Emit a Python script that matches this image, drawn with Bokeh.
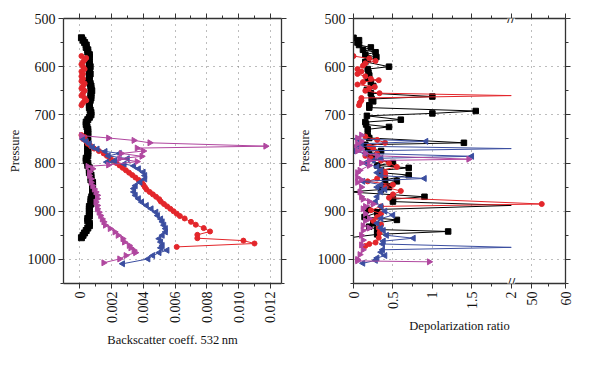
import math
import numpy as np
from bokeh.plotting import figure
from bokeh.layouts import row
from bokeh.models import FixedTicker, LinearAxis, Label, Range1d
from bokeh.embed import file_html
from bokeh.resources import INLINE

# ---------------- data: backscatter coefficient at 532 nm ----------------
bk_black_p = [540, 545, 550, 555, 560, 565, 570, 575, 580, 585, 590, 595, 600, 605, 610, 615, 620, 625,
              630, 635, 640, 645, 650, 655, 660, 665, 670, 675, 680, 685, 690, 695, 700, 705, 710, 715,
              720, 725, 730, 735, 740, 745, 750, 755, 760, 765, 770, 775, 780, 785, 790, 795, 800, 805,
              810, 815, 820, 825, 830, 835, 840, 845, 850, 855, 860, 865, 870, 875, 880, 885, 890, 895,
              900, 905, 910, 915, 920, 925, 930, 935, 940, 945, 950, 955]
bk_black_v = [0.0001, 0.0002, 0.0003, 0.0004, 0.0004, 0.0005, 0.0005, 0.0006, 0.0006, 0.00055, 0.0006, 0.0006,
              0.00065, 0.0006, 0.0006, 0.00065, 0.0006, 0.0006, 0.00055, 0.00065, 0.0007, 0.0007, 0.00075, 0.0007,
              0.0007, 0.0007, 0.00065, 0.0006, 0.0006, 0.0006, 0.00065, 0.0007, 0.0007, 0.0006, 0.0005, 0.0004,
              0.0004, 0.00045, 0.0005, 0.0005, 0.0005, 0.0005, 0.00045, 0.0005, 0.0005, 0.0005, 0.0005, 0.0005,
              0.0005, 0.0005, 0.0004, 0.0004, 0.0005, 0.0005, 0.0006, 0.0006, 0.0006, 0.0007, 0.0007, 0.0007,
              0.0008, 0.0008, 0.0008, 0.0008, 0.0008, 0.0008, 0.00075, 0.0007, 0.0007, 0.0007, 0.0006, 0.0006,
              0.0006, 0.0006, 0.0006, 0.0005, 0.0005, 0.0006, 0.0006, 0.0005, 0.0004, 0.0003, 0.0002, 0.0001]

bk_red_p = [578, 582, 586, 590, 595, 600, 605, 610, 615, 620, 625, 630, 635, 640, 645, 650, 655, 660, 665, 670,
            675, 680, float("nan"),
            742, 746, 750, 755, 760, 765, 770, 775, 780, 785, 790, 795, 800, 805, 810, 815, 820, 825, 830, 835,
            840, 845, 850, 855, 860, 865, 870, 875, 880, 885, 890, 895, 900, 905, 910, 915, 922, 928, 935, 942,
            949, 956, 961, 967, 974]
bk_red_v = [0.0001, 0.0004, 0.0003, 0.0002, 0.0001, 0.0002, 0.0003, 0.0001, 0.0002, 0.0001, 0.0002, 0.0001,
            0.0003, 0.0002, 0.0001, 0.0003, 0.0002, 0.0001, 0.0003, 0.0004, 0.0002, 0.0001, float("nan"),
            0.0001, 0.0003, 0.0002, 0.0004, 0.0005, 0.0007, 0.0009, 0.0012, 0.0015, 0.0017, 0.0019, 0.0021,
            0.0023, 0.0025, 0.0027, 0.0029, 0.0031, 0.0033, 0.0035, 0.0037, 0.0039, 0.0040, 0.0041, 0.0042,
            0.0044, 0.0046, 0.0048, 0.0050, 0.0051, 0.0053, 0.0055, 0.0057, 0.0059, 0.0061, 0.0063, 0.0066,
            0.0070, 0.0073, 0.0078, 0.0082, 0.0074, 0.0074, 0.0103, 0.0110, 0.0061]

bk_blue_p = [750, 755, 760, 767, 771, 776, 780, 785, 791, 795, 798, 802, 806, 812, 819, 826, 833, 840, 847, 853,
             860, 867, 874, 881, 888, 895, 902, 909, 916, 922, 929, 936, 943, 950, 957, 964, 971, 976, 981, 986,
             992, 999, 1009]
bk_blue_v = [0.0002, 0.0004, 0.0006, 0.0008, 0.0011, 0.0016, 0.0025, 0.0018, 0.0030, 0.0022, 0.0017, 0.0028,
             0.0034, 0.0037, 0.0040, 0.0041, 0.0041, 0.0038, 0.0035, 0.0034, 0.0034, 0.0035, 0.0037, 0.0039,
             0.0042, 0.0045, 0.0048, 0.0049, 0.0051, 0.0052, 0.0053, 0.0054, 0.0054, 0.0052, 0.0050, 0.0051,
             0.0052, 0.0051, 0.0055, 0.0050, 0.0046, 0.0043, 0.0027]

bk_mag_p = [743, 748, 753, 758, 765, 769, 775, 780, 786, 791, 797, 804, 807, 812, 819, 826, 833, 840, 847, 854,
            860, 867, 874, 881, 888, 895, 902, 909, 916, 922, 929, 936, 943, 950, 957, 964, 971, 976, 981, 986,
            992, 999, 1007]
bk_mag_v = [0.0001, 0.0018, 0.0034, 0.0044, 0.0117, 0.0036, 0.0040, 0.0026, 0.0039, 0.0025, 0.0036, 0.0018,
            0.0005, 0.0008, 0.0006, 0.0006, 0.0007, 0.0007, 0.0008, 0.0009, 0.0010, 0.0011, 0.0011, 0.0010,
            0.0011, 0.0011, 0.0012, 0.0013, 0.0014, 0.0015, 0.0016, 0.0019, 0.0022, 0.0024, 0.0027, 0.0028,
            0.0031, 0.0032, 0.0034, 0.0035, 0.0029, 0.0025, 0.0015]

# ---------------- data: depolarization ratio ----------------
dp_black_p = [540, 545, 550, 555, 560, 565, 570, 575, 580, 585, 590, 600, 605, 612, 618, 625, 632, 640, 648,
              655, 662, 667, 672, 680, 685, 692, 697, 702, 710, 715, 720, 725, 730, 742, 748, 758, 762, 768,
              775, 782, 790, 800, 805, 810, 815, 820, 825, 835, 838, 845, 850, 855, 860, 870, 875, 880, 888,
              897, 903, 912, 918, 925, 932, 938, 942, 948, 955]
dp_black_v = [0.0, 0.07, 0.05, 0.07, 0.22, 0.12, 0.28, 0.15, 0.29, 0.18, 0.15, 0.45, 0.18, 0.19, 0.2, 0.18,
              0.22, 0.25, 0.17, 0.22, 1.0, 0.23, 0.25, 0.2, 0.2, 1.55, 1.0, 0.17, 0.6, 0.15, 0.16, 0.45, 0.18,
              0.18, 0.2, 1.4, 0.15, 0.18, 0.35, 0.2, 0.25, 0.5, 0.3, 0.7, 0.35, 0.35, 0.7, 0.4, 0.55, 0.4, 0.45,
              0.35, -0.05, 0.9, 0.5, 0.5, 5.0, 0.18, 0.3, 0.14, 0.55, 0.25, 0.2, 0.3, 1.2, 0.3, -0.05]

dp_red_p = [578, 583, 588, 593, 598, 605, 610, 615, 620, 625, 628, 632, 637, 642, 645, 650, 655, 660, 665,
            670, 675, 680, float("nan"),
            745, 752, 758, 765, 770, 780, 785, 790, 795, 800, 808, 815, 820, 825, 832, 838, 845, 850, 858,
            865, 872, 885, 890, 898, 905, 912, 920, 928, 935, 945, 955, 965, 968, 972]
dp_red_v = [0.0, 0.2, 0.28, 0.15, 0.12, 0.05, 0.1, 0.05, 0.15, 0.22, 0.32, 0.12, 0.05, 0.27, 0.2, 0.15, 0.33,
            5.0, 0.1, 0.1, 0.08, 0.07, float("nan"),
            0.15, 0.3, 0.4, 0.2, 0.25, 0.3, 0.15, 0.22, 0.35, 0.45, 0.55, 0.35, 0.4, 0.4, 0.3, 0.18, 0.5, 0.4,
            0.6, 0.5, 0.45, 53.0, 0.35, 0.22, 0.35, 0.3, 0.25, 0.35, 0.32, 0.33, 0.32, 0.28, 0.2, 0.15]

dp_blue_p = [750, 755, 760, 765, 770, 775, 780, 786, 790, 795, 800, 808, 815, 820, 826, 832, 838, 845, 850,
             855, 860, 870, 880, 890, 900, 908, 915, 925, 935, 940, 950, 956, 962, 968, 975, 980, 985, 992,
             997, 1002, 1008]
dp_blue_v = [0.05, 0.92, 0.1, 0.05, 5.0, 0.0, 0.15, 1.5, 0.35, 0.25, 0.15, 0.3, 0.35, 0.3, 0.35, 0.9, 0.12,
             0.35, 0.3, 0.4, 0.35, 0.3, 0.28, 0.35, 0.4, 0.5, 0.35, 0.3, 0.35, 0.38, 0.42, 0.76, 0.38, 0.37,
             5.0, 0.37, 0.35, 0.4, 0.3, 0.28, 0.12]

dp_mag_p = [742, 748, 755, 760, 765, 770, 775, 780, 785, 792, 795, 800, 805, 815, 820, 830, 835, 840, 850,
            860, 870, 875, 880, 885, 890, 895, 905, 915, 920, 930, 935, 940, 950, 960, 970, 980, 990, 1000,
            1003, 1005]
dp_mag_v = [0.1, 0.05, 0.1, 0.05, 0.0, 0.1, 0.05, 0.15, 0.3, 1.46, 0.2, 0.1, 0.2, 0.08, 0.05, 0.05, 0.1,
            0.05, 0.1, 0.08, 0.1, 0.12, 0.2, 0.25, 0.15, 0.12, 0.15, 0.2, 0.15, 0.12, 0.2, 0.12, 0.1, 0.12,
            0.1, 0.12, 0.08, 0.05, 0.05, 0.96]

# axis ticks
p_ticks = [500, 600, 700, 800, 900, 1000]
p_minor = [550, 650, 750, 850, 950, 1050]
bk_ticks = [0, 0.002, 0.004, 0.006, 0.008, 0.010, 0.012]
bk_labels = ["0", "0.002", "0.004", "0.006", "0.008", "0.010", "0.012"]
bk_minor = [0.001, 0.003, 0.005, 0.007, 0.009, 0.011]
dp_ticks = [0, 0.5, 1, 1.5, 2, 50, 60]
dp_labels = ["0", "0.5", "1", "1.5", "2", "50", "60"]
dp_minor = [0.25, 0.75, 1.25, 1.75, 55]
dp_grid = [0.5, 1, 1.5, 50]

# broken depolarization axis: 0-2 linear, then 44-60 compressed
BREAK_LO, BREAK_HI, SQUEEZE = 2.0, 44.0, 0.043


def brk(v):
    if v != v:
        return v
    if v <= BREAK_LO:
        return v
    if v >= BREAK_HI:
        return BREAK_LO + (v - BREAK_HI) * SQUEEZE
    return BREAK_LO


def shown(v):
    return v == v and (v <= BREAK_LO or v >= BREAK_HI)


FONT = "Liberation Serif"
C_BLACK, C_RED, C_BLUE, C_MAG = "#000000", "#e3262b", "#3b4ea0", "#b0479f"
GRID = "#7a7a7a"


def style(p, xt, xminor, xlabels, grid_ticks, xlabel):
    p.outline_line_color = None
    p.xaxis.visible = False
    p.yaxis.visible = False
    xt_fixed = FixedTicker(ticks=xt, minor_ticks=xminor)
    yt_fixed = FixedTicker(ticks=p_ticks, minor_ticks=p_minor)
    overrides = {t: l for t, l in zip(xt, xlabels)}
    for loc, ticker, is_x in (("below", xt_fixed, True), ("above", xt_fixed, True),
                              ("left", yt_fixed, False), ("right", yt_fixed, False)):
        ax = LinearAxis(ticker=ticker)
        ax.axis_line_color = "#333333"
        ax.axis_line_width = 1.3
        ax.major_tick_line_color = "#333333"
        ax.minor_tick_line_color = "#333333"
        ax.major_tick_out = 5
        ax.major_tick_in = 0
        ax.minor_tick_out = 3
        ax.minor_tick_in = 0
        ax.major_label_text_font = FONT
        ax.major_label_text_color = "#111111"
        ax.major_label_text_font_size = "14px"
        ax.axis_label_text_font = FONT
        ax.axis_label_text_font_style = "normal"
        ax.axis_label_text_color = "#111111"
        ax.axis_label_text_font_size = "12.5px"
        ax.major_label_standoff = 3
        ax.axis_label_standoff = 3
        if loc in ("above", "right"):
            ax.major_label_text_color = None
            ax.major_label_standoff = 0
        if is_x:
            ax.major_label_overrides = overrides
            if loc == "below":
                ax.major_label_orientation = math.pi / 2
                ax.axis_label = xlabel
                ax.axis_label_standoff = 7
        else:
            if loc == "left":
                ax.axis_label = "Pressure"
        p.add_layout(ax, loc)
    p.xgrid.ticker = FixedTicker(ticks=grid_ticks)
    p.ygrid.ticker = FixedTicker(ticks=[600, 700, 800, 900, 1000])
    for g in (p.xgrid, p.ygrid):
        g.grid_line_color = GRID
        g.grid_line_dash = "1 5"
        g.grid_line_width = 1


# ---------------- left panel ----------------
p1 = figure(width=294, height=350, output_backend="svg", toolbar_location=None,
            x_range=Range1d(-0.00103, 0.0127), y_range=Range1d(1050, 500),
            min_border_left=63, min_border_right=13, min_border_top=18, min_border_bottom=67,
            background_fill_color="white", border_fill_color="white")
style(p1, bk_ticks, bk_minor, bk_labels, bk_ticks, "Backscatter coeff. 532\u2009nm")

p1.line(bk_black_v, bk_black_p, line_color=C_BLACK, line_width=1.2)
p1.scatter(bk_black_v, bk_black_p, marker="square", size=6, color=C_BLACK)
p1.line(bk_red_v, bk_red_p, line_color=C_RED, line_width=1)
p1.scatter(bk_red_v, bk_red_p, marker="circle", size=5, color=C_RED)
p1.line(bk_blue_v, bk_blue_p, line_color=C_BLUE, line_width=1)
p1.scatter(bk_blue_v, bk_blue_p, marker="triangle", angle=math.pi / 2, size=6, color=C_BLUE)
p1.line(bk_mag_v, bk_mag_p, line_color=C_MAG, line_width=1)
p1.scatter(bk_mag_v, bk_mag_p, marker="triangle", angle=-math.pi / 2, size=6, color=C_MAG)

# ---------------- right panel ----------------
dp_tick_pos = [brk(t) for t in dp_ticks]
p2 = figure(width=290, height=350, output_backend="svg", toolbar_location=None,
            x_range=Range1d(0, brk(60)), y_range=Range1d(1050, 500),
            min_border_left=56, min_border_right=19, min_border_top=18, min_border_bottom=67,
            background_fill_color="white", border_fill_color="white")
style(p2, dp_tick_pos, [brk(t) for t in dp_minor], dp_labels, [brk(t) for t in dp_grid],
      "Depolarization ratio")


def depol(vals, pres, color, marker, angle, size):
    xv = [brk(v) for v in vals]
    p2.line(xv, pres, line_color=color, line_width=1)
    mx = [brk(v) for v in vals if shown(v)]
    my = [pp for v, pp in zip(vals, pres) if shown(v)]
    p2.scatter(mx, my, marker=marker, angle=angle, size=size, color=color)


depol(dp_black_v, dp_black_p, C_BLACK, "square", 0, 5.5)
depol(dp_red_v, dp_red_p, C_RED, "circle", 0, 5)
depol(dp_blue_v, dp_blue_p, C_BLUE, "triangle", math.pi / 2, 6)
depol(dp_mag_v, dp_mag_p, C_MAG, "triangle", -math.pi / 2, 6)

for yy in (500, 1050):
    p2.add_layout(Label(x=brk(BREAK_LO), y=yy, text="//", text_font=FONT, text_font_size="14px",
                        text_font_style="bold", text_align="center", text_baseline="middle",
                        text_color="#222222", background_fill_color="white", background_fill_alpha=1.0))

layout = row(p1, p2)
open("out.html", "w").write(file_html(layout, INLINE))
